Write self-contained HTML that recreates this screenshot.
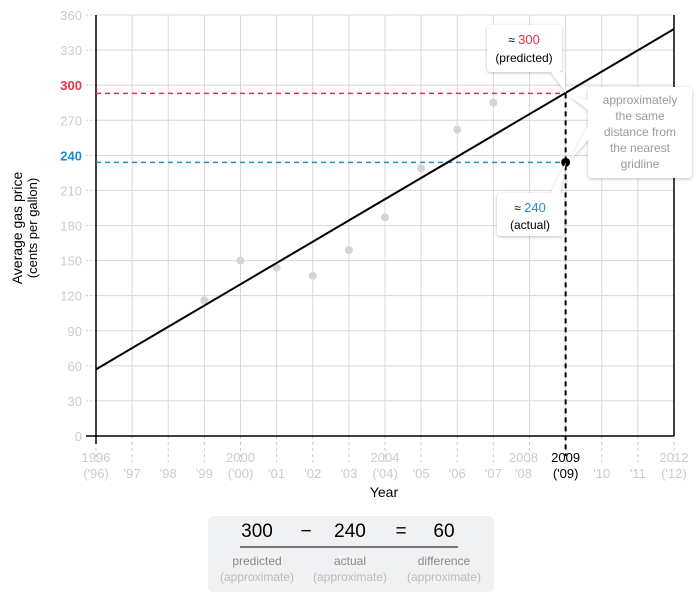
<!DOCTYPE html>
<html><head><meta charset="utf-8"><style>
body{margin:0;background:#fff;font-family:"Liberation Sans",Arial,sans-serif}
svg text{font-family:"Liberation Sans",Arial,sans-serif}
</style></head><body>
<svg width="700" height="602" viewBox="0 0 700 602">
<defs><filter id="sh" x="-20%" y="-20%" width="140%" height="140%"><feDropShadow dx="0" dy="1" stdDeviation="1.5" flood-color="#000" flood-opacity="0.25"/></filter></defs>
<g>
<rect x="208" y="516" width="286" height="76" rx="5" fill="#f0f1f3"/>
<g font-size="19" text-anchor="middle"><text x="257" y="537">300</text><text x="306" y="537">−</text><text x="350" y="537">240</text><text x="401" y="537">=</text><text x="444" y="537">60</text></g>
<line x1="240" y1="547" x2="458" y2="547" stroke="#000" stroke-width="1"/>
<g font-size="12" text-anchor="middle"><text x="257" y="565" fill="#888">predicted</text><text x="350" y="565" fill="#888">actual</text><text x="444" y="565" fill="#888">difference</text>
<text x="257" y="581" fill="#bbb">(approximate)</text><text x="350" y="581" fill="#bbb">(approximate)</text><text x="444" y="581" fill="#bbb">(approximate)</text></g>
</g>
<g id="grid"></g>
<g id="axes"></g>
<g id="marks"></g>
<g>
<path d="M491,25 H558 a4,4 0 0 1 4,4 V68 a4,4 0 0 1 -4,4 H564 L566,93 L551,72 H491 a4,4 0 0 1 -4,-4 V29 a4,4 0 0 1 4,-4Z" fill="#fff" filter="url(#sh)"/>
<text x="524" y="44" font-size="12" text-anchor="middle" fill="#000">≈ <tspan fill="#e8304a" font-size="13">300</tspan></text>
<text x="524" y="62" font-size="12" text-anchor="middle">(predicted)</text>
</g>
<g>
<path d="M501,193 H551 L566,162 L560,193 a4,4 0 0 1 4,4 V232 a4,4 0 0 1 -4,4 H501 a4,4 0 0 1 -4,-4 V197 a4,4 0 0 1 4,-4Z" fill="#fff" filter="url(#sh)"/>
<text x="530" y="212" font-size="12" text-anchor="middle">≈ <tspan fill="#1a8fd0" font-size="13">240</tspan></text>
<text x="530" y="229" font-size="12" text-anchor="middle">(actual)</text>
</g>
<g>
<path d="M592,87 H688 a4,4 0 0 1 4,4 V174 a4,4 0 0 1 -4,4 H592 a4,4 0 0 1 -4,-4 V140 L570,160 L588,126 V110 L570,96 L588,100 V91 a4,4 0 0 1 4,-4Z" fill="#fff" filter="url(#sh)"/>
<g font-size="12" fill="#999" text-anchor="middle">
<text x="640" y="104">approximately</text><text x="640" y="120">the same</text><text x="640" y="136">distance from</text><text x="640" y="152">the nearest</text><text x="640" y="168">gridline</text></g>
</g>
<text x="384" y="497" font-size="14" text-anchor="middle">Year</text>
<text transform="translate(22,228) rotate(-90)" font-size="14" text-anchor="middle"><tspan x="0" y="0">Average gas price</tspan><tspan x="0" y="15" font-size="13">(cents per gallon)</tspan></text>
</svg>
<script>
const years=[1999,2000,2001,2002,2003,2004,2005,2006,2007];
const prices=[116,150,144,137,159,187,229,262,285];
const actualYear=[2009];
const actualPrice=[234];
const lineStart=[1996,57];
const lineEnd=[2012,348];
const predicted=[293];
const yTicks=[0,30,60,90,120,150,180,210,240,270,300,330,360];
const xTicks=[1996,1997,1998,1999,2000,2001,2002,2003,2004,2005,2006,2007,2008,2009,2010,2011,2012];
const xLabels=[["1996","('96)"],["","'97"],["","'98"],["","'99"],["2000","('00)"],["","'01"],["","'02"],["","'03"],["2004","('04)"],["","'05"],["","'06"],["","'07"],["2008","'08"],["2009","('09)"],["","'10"],["","'11"],["2012","('12)"]];
const X0=96,X1=674,Y0=436,Y1=15;
const xs=v=>X0+(v-1996)/(2012-1996)*(X1-X0);
const ys=v=>Y0-v/360*(Y0-Y1);
const NS="http://www.w3.org/2000/svg";
function mk(p,t,a){const e=document.createElementNS(NS,t);for(const k in a)e.setAttribute(k,a[k]);document.getElementById(p).appendChild(e);return e;}
yTicks.forEach((t,i)=>{
 const l=mk('grid','line',{x1:X0,x2:X1,y1:ys(t),y2:ys(t),stroke:'#d8d8d8'});
 
 
 const d=mk('axes','line',{x1:86,x2:95,y1:ys(t),y2:ys(t),stroke:'#ccc','stroke-dasharray':'2,2'});
 
 
 const hi=t===300?'#e8304a':t===240?'#1a8fd0':'#ccc';
 const tx=mk('axes','text',{x:82,y:ys(t)+5,'text-anchor':'end','font-size':13,fill:hi,'font-weight':(t===300||t===240)?'bold':'normal'});
 tx.textContent=t;
 
 
});
xTicks.forEach((t,i)=>{
 const l=mk('grid','line',{x1:xs(t),x2:xs(t),y1:Y1,y2:Y0,stroke:'#d8d8d8'});
 
 
 const d=mk('axes','line',{x1:xs(t),x2:xs(t),y1:Y0,y2:Y0+26,stroke:'#ccc','stroke-dasharray':'3,3'});
 
 
 const col=t===2009?'#000':'#ccc';
 [0,1].forEach(j=>{if(!xLabels[i][j])return;
  const tx=mk('axes','text',{x:xs(t)+(t===2008?-6:0),y:Y0+(j?42:26),'text-anchor':'middle','font-size':13,fill:col});
  tx.textContent=xLabels[i][j];
  
  });
});
const ax1=mk('axes','line',{x1:X0,x2:X0,y1:Y1,y2:Y0+8,stroke:'#000','stroke-width':1.5});

const ax2=mk('axes','line',{x1:X0-10,x2:X1,y1:Y0,y2:Y0,stroke:'#000','stroke-width':1.5});

const ax3=mk('axes','line',{x1:X1,x2:X1,y1:Y1,y2:Y0,stroke:'#000','stroke-width':1.5});

const rd=mk('marks','line',{x1:X0,x2:xs(actualYear[0]),y1:ys(predicted[0]),y2:ys(predicted[0]),stroke:'#e8304a','stroke-width':1.5,'stroke-dasharray':'5,4'});

const bd=mk('marks','line',{x1:X0,x2:xs(actualYear[0]),y1:ys(actualPrice[0]),y2:ys(actualPrice[0]),stroke:'#1a8fd0','stroke-width':1.5,'stroke-dasharray':'5,4'});

const vd=mk('marks','line',{x1:xs(actualYear[0]),x2:xs(actualYear[0]),y1:ys(predicted[0]),y2:Y0+20,stroke:'#000','stroke-width':2,'stroke-dasharray':'5,4'});

years.forEach((y,i)=>{
 const c=mk('marks','circle',{cx:xs(y),cy:ys(prices[i]),r:4,fill:'#d4d4d4'});
 
 
});
const tl=mk('marks','line',{x1:xs(lineStart[0]),y1:ys(lineStart[1]),x2:xs(lineEnd[0]),y2:ys(lineEnd[1]),stroke:'#000','stroke-width':2});

const ap=mk('marks','circle',{cx:xs(actualYear[0]),cy:ys(actualPrice[0]),r:4.5,fill:'#000'});

</script>
</body></html>
